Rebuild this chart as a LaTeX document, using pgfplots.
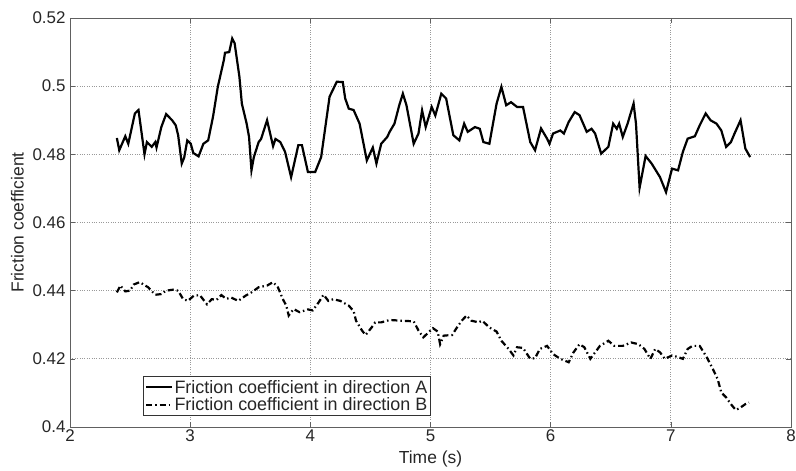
\documentclass[border=0pt]{standalone}
\usepackage{pgfplots}
\pgfplotsset{compat=1.18}
\usepackage{fontspec}
\setmainfont{Liberation Sans}
\begin{document}
\begin{tikzpicture}
\begin{axis}[
  name=ax,
  scale only axis,
  width=721bp, height=409bp,
  xmin=2, xmax=8, ymin=0.4, ymax=0.52,
  xtick={2,3,4,5,6,7,8},
  ytick={0.4,0.42,0.44,0.46,0.48,0.5,0.52},
  yticklabels={0.4,0.42,0.44,0.46,0.48,0.5,0.52},
  /pgf/number format/assume math mode=true,
  tick label style={font=\fontsize{17}{19}\selectfont, black!85},
  xticklabel style={yshift=1bp},
  yticklabel style={xshift=-1bp},
  label style={font=\fontsize{17.5}{19}\selectfont, black!85},
  xlabel={Time (s)},
  ylabel={Friction coefficient},
  xlabel style={yshift=-3bp},
  ylabel style={yshift=2bp},
  grid=major,
  major grid style={dotted, gray!80, line width=0.8bp},
  axis line style={gray!75!black, line width=0.9bp},
  tick style={gray!75!black, line width=0.6bp},
  tick align=inside,
  major tick length=5bp,
  legend cell align=left,
  legend image code/.code={\draw[#1, line width=1.8bp] (0bp,0bp) -- (26bp,0bp);},
  legend style={at={(0.101,0.027)}, anchor=south west, draw=gray!40!black, line width=0.8bp,
    font=\fontsize{18}{20}\selectfont, text=black!85, inner sep=2bp, row sep=0bp,
    nodes={inner sep=1.5bp}},
]
\addplot[black, line width=2.2bp] coordinates {
(2.39,0.4848)(2.41,0.4812)(2.46,0.4853)(2.485,0.4831)(2.54,0.492)(2.57,0.493)(2.62,0.480)(2.64,0.4836)(2.68,0.4822)(2.71,0.4836)(2.72,0.482)(2.76,0.488)(2.80,0.4918)(2.85,0.490)(2.88,0.4885)(2.90,0.4856)(2.93,0.4773)(2.95,0.479)(2.976,0.4841)(3.005,0.4831)(3.026,0.4804)(3.07,0.4794)(3.11,0.4831)(3.15,0.4841)(3.19,0.4910)(3.23,0.4998)(3.28,0.5076)(3.29,0.5098)(3.325,0.510)(3.35,0.514)(3.37,0.5126)(3.41,0.5027)(3.43,0.4949)(3.47,0.489)(3.49,0.4851)(3.51,0.4753)(3.53,0.4792)(3.57,0.4836)(3.59,0.4845)(3.64,0.490)(3.69,0.4824)(3.71,0.4845)(3.75,0.4836)(3.79,0.4807)(3.84,0.4733)(3.90,0.4827)(3.93,0.4827)(3.98,0.4748)(4.04,0.4748)(4.09,0.4792)(4.16,0.4969)(4.22,0.5013)(4.27,0.5012)(4.29,0.4964)(4.32,0.4934)(4.36,0.493)(4.41,0.489)(4.47,0.4782)(4.52,0.482)(4.55,0.4773)(4.59,0.4831)(4.64,0.4851)(4.66,0.4866)(4.70,0.489)(4.74,0.4944)(4.77,0.4978)(4.80,0.4944)(4.86,0.4831)(4.90,0.4861)(4.93,0.4929)(4.96,0.488)(5.01,0.4939)(5.04,0.4914)(5.09,0.4978)(5.13,0.4964)(5.19,0.4856)(5.24,0.4841)(5.28,0.489)(5.31,0.4866)(5.37,0.488)(5.41,0.4875)(5.44,0.4836)(5.49,0.4831)(5.55,0.4949)(5.59,0.4998)(5.63,0.4944)(5.67,0.4953)(5.72,0.4939)(5.77,0.4939)(5.83,0.4836)(5.87,0.4812)(5.92,0.4876)(5.97,0.4846)(5.99,0.4831)(6.02,0.4861)(6.08,0.487)(6.11,0.4861)(6.15,0.4895)(6.20,0.4924)(6.24,0.4915)(6.30,0.4866)(6.34,0.4875)(6.37,0.4861)(6.42,0.4802)(6.48,0.4822)(6.52,0.489)(6.55,0.4875)(6.57,0.489)(6.60,0.4851)(6.64,0.489)(6.69,0.4949)(6.71,0.489)(6.74,0.4702)(6.79,0.4795)(6.84,0.4773)(6.91,0.4733)(6.96,0.4689)(7.01,0.4758)(7.06,0.4753)(7.10,0.4807)(7.14,0.4846)(7.20,0.4853)(7.24,0.4885)(7.29,0.492)(7.33,0.490)(7.38,0.489)(7.42,0.487)(7.46,0.4822)(7.50,0.4836)(7.53,0.4861)(7.58,0.490)(7.62,0.4817)(7.66,0.4792)
};
\addlegendentry{Friction coefficient in direction A}
\addplot[black, line width=2.2bp, dash pattern=on 6bp off 3bp on 1.5bp off 3bp] coordinates {
(2.39,0.4395)(2.42,0.4415)(2.46,0.4398)(2.50,0.440)(2.53,0.4418)(2.58,0.4425)(2.65,0.441)(2.71,0.4388)(2.76,0.439)(2.80,0.440)(2.86,0.4403)(2.90,0.440)(2.94,0.4376)(2.98,0.437)(3.03,0.4385)(3.08,0.4387)(3.14,0.436)(3.18,0.4375)(3.22,0.4373)(3.26,0.4387)(3.30,0.4376)(3.34,0.438)(3.40,0.437)(3.46,0.4385)(3.51,0.4395)(3.57,0.441)(3.64,0.4415)(3.69,0.4425)(3.73,0.441)(3.77,0.4376)(3.80,0.4356)(3.82,0.4327)(3.86,0.4346)(3.91,0.4337)(3.98,0.4345)(4.02,0.4342)(4.07,0.4366)(4.11,0.4388)(4.15,0.437)(4.19,0.4375)(4.25,0.437)(4.32,0.4356)(4.36,0.434)(4.38,0.4312)(4.43,0.4283)(4.46,0.427)(4.51,0.4292)(4.54,0.4307)(4.59,0.4307)(4.66,0.4314)(4.75,0.4312)(4.86,0.431)(4.90,0.4283)(4.94,0.4263)(4.97,0.4273)(5.02,0.429)(5.06,0.428)(5.08,0.4243)(5.11,0.4268)(5.18,0.427)(5.22,0.4292)(5.26,0.4312)(5.30,0.4327)(5.34,0.4312)(5.40,0.4307)(5.43,0.4312)(5.49,0.4292)(5.55,0.428)(5.59,0.4253)(5.65,0.4229)(5.69,0.421)(5.72,0.4234)(5.77,0.4232)(5.83,0.420)(5.87,0.4202)(5.91,0.4229)(5.97,0.4238)(6.02,0.4214)(6.08,0.420)(6.15,0.419)(6.19,0.4219)(6.24,0.4243)(6.28,0.4234)(6.33,0.420)(6.37,0.4219)(6.41,0.4238)(6.48,0.4253)(6.53,0.4238)(6.60,0.4238)(6.67,0.4248)(6.73,0.4243)(6.78,0.4229)(6.83,0.420)(6.87,0.4229)(6.91,0.4219)(6.95,0.420)(7.01,0.421)(7.06,0.4205)(7.10,0.420)(7.14,0.4229)(7.18,0.4238)(7.24,0.4238)(7.30,0.4204)(7.35,0.417)(7.39,0.414)(7.42,0.4101)(7.46,0.4087)(7.50,0.4067)(7.54,0.405)(7.57,0.4055)(7.62,0.4067)(7.65,0.4072)
};
\addlegendentry{Friction coefficient in direction B}
\end{axis}
\pgfresetboundingbox
\path (ax.south west) ++(-70bp,-43bp) coordinate (bl);
\path (ax.north east) ++(5bp,18bp) coordinate (tr);
\useasboundingbox (bl) rectangle (tr);
\end{tikzpicture}
\end{document}
